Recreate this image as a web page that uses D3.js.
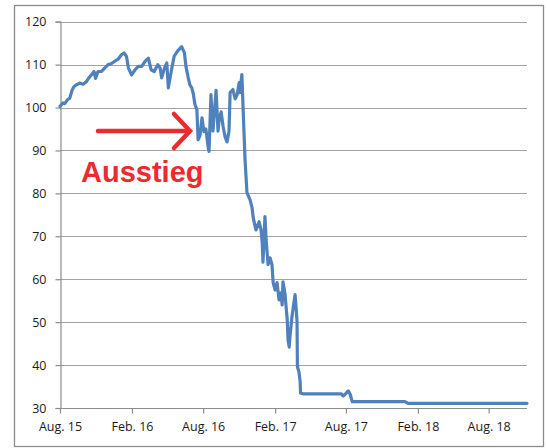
<!DOCTYPE html>
<html>
<head>
<meta charset="utf-8">
<script src="https://cdn.jsdelivr.net/npm/d3@7"></script>
<style>
  body { margin: 0; background: #fff; }
  svg text { font-family: "Open Sans", "Liberation Sans", sans-serif; }
</style>
</head>
<body>
<div id="chart"></div>
<script>
// chart size
const width = 547;
const height = 448;

// dates and values of the series
const dates = [
  "2015-08-01", "2015-08-09", "2015-08-13", "2015-08-20", "2015-08-26", "2015-09-01", "2015-09-06",
  "2015-09-12", "2015-09-20", "2015-09-29", "2015-10-07", "2015-10-13", "2015-10-20", "2015-10-27",
  "2015-10-31", "2015-11-06", "2015-11-15", "2015-11-23", "2015-12-02", "2015-12-10", "2015-12-19",
  "2015-12-27", "2016-01-05", "2016-01-12", "2016-01-18", "2016-01-23", "2016-01-31", "2016-02-09",
  "2016-02-17", "2016-02-26", "2016-03-05", "2016-03-14", "2016-03-21", "2016-03-29", "2016-04-07",
  "2016-04-13", "2016-04-17", "2016-04-24", "2016-04-30", "2016-05-04", "2016-05-13", "2016-05-19",
  "2016-05-28", "2016-06-07", "2016-06-14", "2016-06-18", "2016-06-24", "2016-06-28", "2016-07-03",
  "2016-07-07", "2016-07-11", "2016-07-16", "2016-07-19", "2016-07-24", "2016-07-29",
  "2016-08-03", "2016-08-08", "2016-08-14", "2016-08-16", "2016-08-21", "2016-08-24", "2016-08-26",
  "2016-09-03", "2016-09-08", "2016-09-11", "2016-09-16", "2016-09-21", "2016-09-26", "2016-10-01",
  "2016-10-06", "2016-10-09", "2016-10-16", "2016-10-22", "2016-10-27", "2016-11-01", "2016-11-03",
  "2016-11-08", "2016-11-11", "2016-11-16", "2016-11-21", "2016-11-29", "2016-12-04", "2016-12-07",
  "2016-12-14", "2016-12-22", "2016-12-27", "2016-12-30", "2017-01-01", "2017-01-06", "2017-01-09",
  "2017-01-14", "2017-01-19", "2017-01-24", "2017-01-27", "2017-02-01", "2017-02-06", "2017-02-11",
  "2017-02-16", "2017-02-19", "2017-02-21", "2017-02-26", "2017-03-04", "2017-03-06", "2017-03-09",
  "2017-03-11", "2017-03-16", "2017-03-21", "2017-03-24", "2017-03-27", "2017-03-29", "2017-03-30",
  "2017-04-03", "2017-04-06", "2017-04-07", "2017-04-13", "2017-07-20", "2017-07-25", "2017-07-30",
  "2017-08-07", "2017-08-12", "2017-08-17", "2017-12-30", "2018-01-07", "2018-11-07"
];
const values = [
  100.3, 101.1, 100.9, 101.8, 102.2, 104.1, 104.9,
  105.3, 105.7, 105.4, 106, 106.8, 107.6, 108.4,
  106.8, 108.4, 108.4, 109.2, 110, 110.2, 110.8,
  111.2, 112.3, 112.7, 111.9, 109.2, 107.6, 108.8,
  109.6, 109.6, 110.7, 111.5, 108.8, 108.4, 110,
  109.2, 106.9, 109.2, 110.4, 104.6, 109.2, 112,
  113.2, 114.2, 112.8, 109.6, 106.9, 105.3, 104.6,
  103.1, 100.7, 99.5, 92.5, 93.5, 97.6,
  94.4, 95, 90.6, 89.8, 103, 97, 94.5,
  104, 94.5, 97.2, 99, 95.6, 93.2, 92,
  94.4, 103.5, 104.2, 102, 103, 105.8, 103.5,
  107.7, 100.2, 88, 80.2, 78.5, 76.7, 74.3,
  71.5, 73.4, 71.5, 68.5, 64, 74.6, 69.2,
  63.4, 65, 63.4, 59.2, 57.5, 59.2, 55.2,
  56.8, 54, 59.4, 56.8, 50.5, 45.9, 44.2,
  46.6, 51.2, 54.5, 56.4, 52.9, 50.1, 39.6,
  38.4, 36.1, 33.5, 33.3, 33.3, 32.8, 33.2,
  34, 33.2, 31.5, 31.5, 31.1, 31.1
];

// axis ticks
const xTickDates = ["2015-08-01", "2016-02-01", "2016-08-01", "2017-02-01", "2017-08-01", "2018-02-01", "2018-08-01"];
const xTickLabels = ["Aug. 15", "Feb. 16", "Aug. 16", "Feb. 17", "Aug. 17", "Feb. 18", "Aug. 18"];
const yTicks = [30, 40, 50, 60, 70, 80, 90, 100, 110, 120];

const parseDate = d3.timeParse("%Y-%m-%d");
const series = dates.map((d, i) => ({ date: parseDate(d), value: values[i] }));

const svg = d3.select('#chart')
  .append('svg')
  .attr('width', width)
  .attr('height', height);

// outer frame
svg.append('rect')
  .attr('x', 14.5)
  .attr('y', 5.5)
  .attr('width', 529)
  .attr('height', 441)
  .attr('fill', '#fff')
  .attr('stroke', '#8c8c8c')
  .attr('stroke-width', 1.3);

// scales
const x = d3.scaleTime()
  .domain([parseDate("2015-08-01"), parseDate("2018-11-07")])
  .range([60, 527]);

const y = d3.scaleLinear()
  .domain([30, 120])
  .range([408, 21.7]);

// gridlines
svg.append('g')
  .selectAll('line')
  .data(yTicks.slice(1))
  .enter()
  .append('line')
  .attr('x1', 60)
  .attr('x2', 527)
  .attr('y1', d => Math.round(y(d)) + 0.5)
  .attr('y2', d => Math.round(y(d)) + 0.5)
  .attr('stroke', '#a3a3a3')
  .attr('stroke-width', 1.2);

// y axis
const yAxis = svg.append('g')
  .attr('transform', 'translate(60.5,0)')
  .call(d3.axisLeft(y).tickValues(yTicks).tickSize(5).tickPadding(9).tickFormat(d3.format('d')));

// x axis
const xAxis = svg.append('g')
  .attr('transform', 'translate(0,408.5)')
  .call(d3.axisBottom(x)
    .tickValues(xTickDates.map(parseDate))
    .tickSize(5)
    .tickPadding(9)
    .tickFormat((d, i) => xTickLabels[i]));

[yAxis, xAxis].forEach(ax => {
  ax.select('.domain').attr('stroke', '#8c8c8c').attr('stroke-width', 1.2);
  ax.selectAll('.tick line').attr('stroke', '#8c8c8c').attr('stroke-width', 1.2);
  ax.selectAll('.tick text')
    .attr('fill', '#1a1a1a')
    .style('font-size', '12.5px');
});
xAxis.select('.domain').attr('d', 'M60,0H527');

// the line
const line = d3.line()
  .x(d => x(d.date))
  .y(d => y(d.value));

svg.append('path')
  .datum(series)
  .attr('d', line)
  .attr('fill', 'none')
  .attr('stroke', '#4f81bd')
  .attr('stroke-width', 3.2)
  .attr('stroke-linejoin', 'round')
  .attr('stroke-linecap', 'round');

// annotation arrow
const red = '#ec2a2f';
svg.append('line')
  .attr('x1', 98)
  .attr('y1', 131)
  .attr('x2', 188)
  .attr('y2', 131)
  .attr('stroke', red)
  .attr('stroke-width', 4.5)
  .attr('stroke-linecap', 'round');

svg.append('path')
  .attr('d', 'M174,114 L190,131 L174,148')
  .attr('fill', 'none')
  .attr('stroke', red)
  .attr('stroke-width', 4.5)
  .attr('stroke-linecap', 'round')
  .attr('stroke-linejoin', 'miter');

svg.append('text')
  .attr('x', 81)
  .attr('y', 182)
  .attr('fill', red)
  .style('font-family', '"Liberation Sans", Arial, sans-serif')
  .style('font-weight', 'bold')
  .style('font-size', '29px')
  .text('Ausstieg');
</script>
</body>
</html>
